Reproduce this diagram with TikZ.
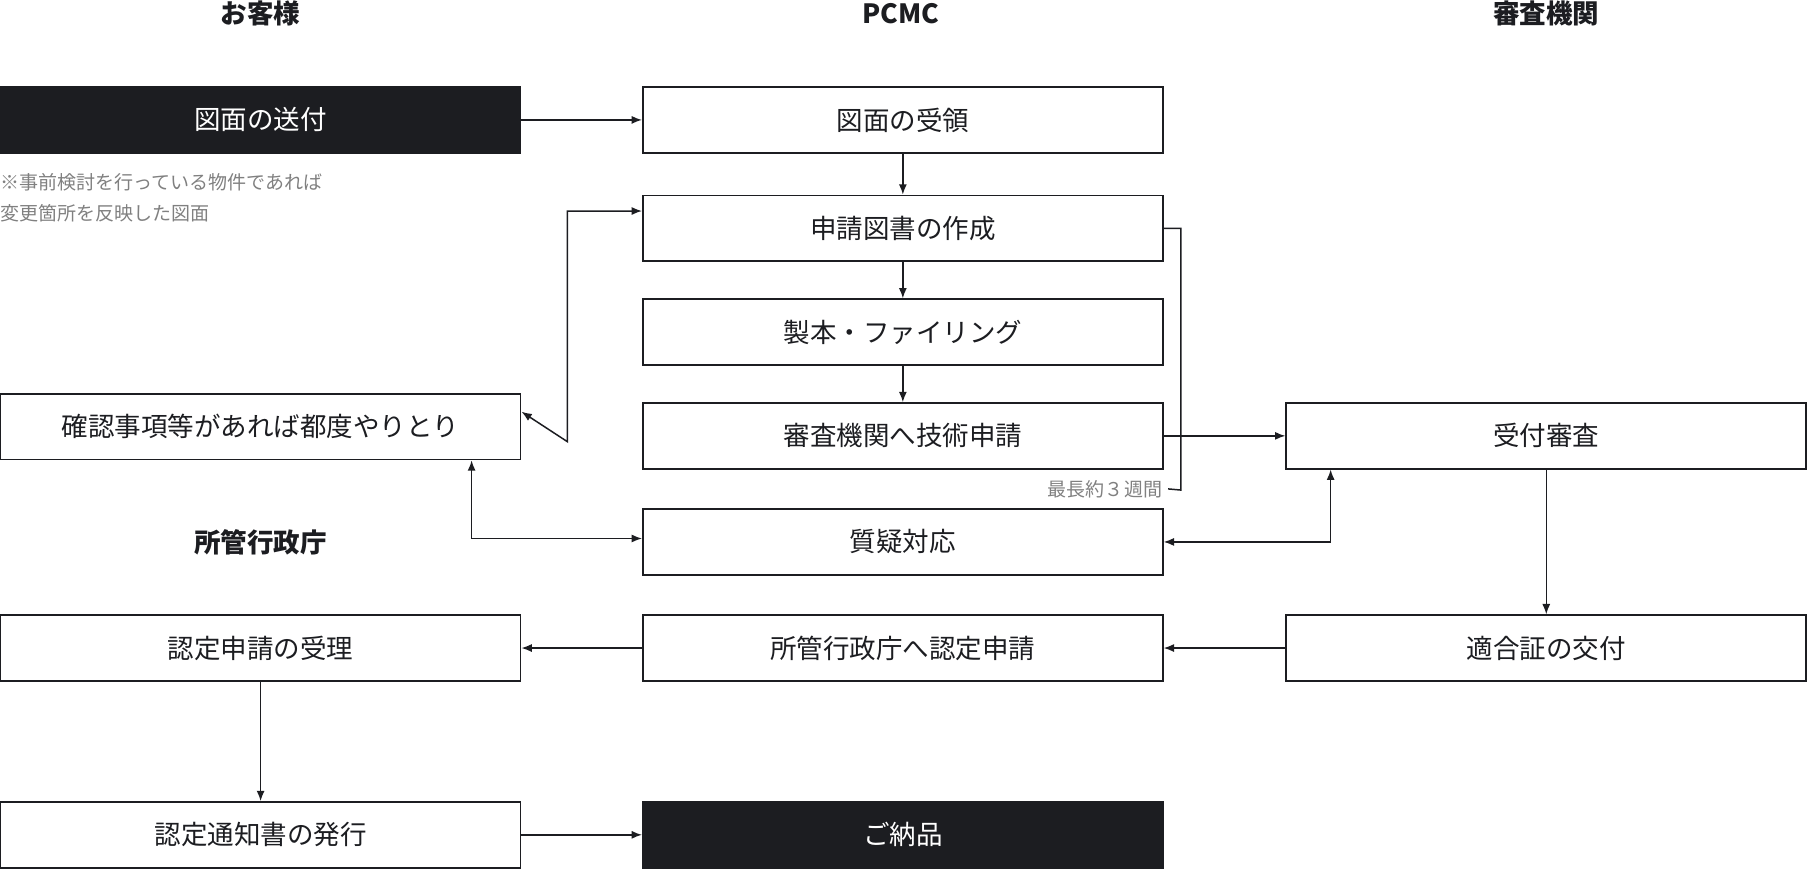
\documentclass[tikz,border=0pt]{standalone}
\usepackage{fontspec}
\setmainfont{Noto Sans CJK JP}
\usetikzlibrary{arrows.meta, positioning}
\definecolor{inkdark}{HTML}{1C1D21}
\definecolor{notegray}{HTML}{808080}

\begin{document}
\begin{tikzpicture}[x=1pt, y=-1pt,
  flowbox/.style={draw=inkdark, line width=1.4pt, minimum width=451pt, minimum height=57pt, inner sep=0pt, font=\fontsize{23}{26}\selectfont, text=inkdark},
  darkbox/.style={flowbox, fill=inkdark, text=white},
  colhead/.style={font=\fontsize{23}{26}\selectfont\bfseries, text=inkdark},
  link/.style={draw=inkdark, line width=1.3pt, -{Latex[length=9pt, width=7pt]}},
  twoway/.style={link, {Latex[length=9pt, width=7pt]}-{Latex[length=9pt, width=7pt]}}]
\useasboundingbox (0,0) rectangle (1568,753);

% column headers
\node[colhead] (hcust) at (226,12) {お客様};
\node[colhead] (hpcmc) at (781,12) {PCMC};
\node[colhead] (horg) at (1341,12) {審査機関};
\node[colhead] (hgov) at (226,470) {所管行政庁};

% customer / government column
\node[darkbox] (send) at (226,104) {図面の送付};
\node[anchor=north west, align=left, text=notegray, font=\fontsize{16.5}{27}\selectfont, inner sep=0pt] (note) at (0,150) {※事前検討を行っている物件であれば\\変更箇所を反映した図面};
\node[flowbox] (confirm) at (226,370) {確認事項等があれば都度やりとり};
\node[flowbox] (accept) at (226,562) {認定申請の受理};
\node[flowbox] (issue) at (226,724) {認定通知書の発行};

% PCMC column
\node[flowbox] (receive) at (783,104) {図面の受領};
\node[flowbox] (draft) at (783,198) {申請図書の作成};
\node[flowbox] (bind) at (783,288) {製本・ファイリング};
\node[flowbox] (techapp) at (783,378) {審査機関へ技術申請};
\node[flowbox] (qa) at (783,470) {質疑対応};
\node[flowbox] (certapp) at (783,562) {所管行政庁へ認定申請};
\node[darkbox] (deliver) at (783,724) {ご納品};

% review body column
\node[flowbox] (review) at (1341,378) {受付審査};
\node[flowbox] (conform) at (1341,562) {適合証の交付};

% duration bracket
\node[anchor=east, text=notegray, font=\fontsize{16.5}{20}\selectfont, inner sep=0pt] (period) at (1008,424) {最長約３週間};
\draw[draw=inkdark, line width=1.3pt] (draft.east) -- (1024,198) -- (1024,425) -- ([xshift=5pt]period.east);

% connectors
\draw[link] (send) -- (receive);
\draw[link] (receive) -- (draft);
\draw[link] (draft) -- (bind);
\draw[link] (bind) -- (techapp);
\draw[link] (techapp) -- (review);
\draw[twoway] ([yshift=13pt]confirm.east) -- (492,383) |- ([yshift=15pt]draft.west);
\draw[twoway] ([xshift=183pt]confirm.south) |- ([yshift=3pt]qa.west);
\draw[twoway] (qa.east) -| ([xshift=-187pt]review.south);
\draw[link] (review) -- (conform);
\draw[link] (conform) -- (certapp);
\draw[link] (certapp) -- (accept);
\draw[link] (accept) -- (issue);
\draw[link] (issue) -- (deliver);
\end{tikzpicture}
\end{document}
